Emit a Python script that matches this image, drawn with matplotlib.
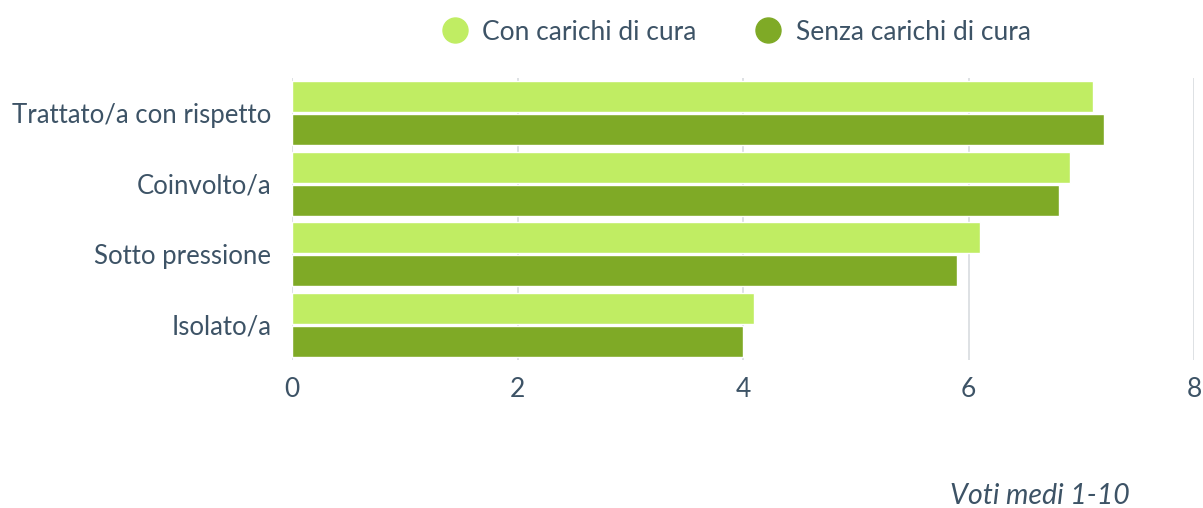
import matplotlib.pyplot as plt
import numpy as np

plt.rcParams['font.family'] = ['Lato', 'DejaVu Sans']

# dati
categorie = ['Trattato/a con rispetto', 'Coinvolto/a', 'Sotto pressione', 'Isolato/a']
con_carichi = [7.1, 6.9, 6.1, 4.1]
senza_carichi = [7.2, 6.8, 5.9, 4.0]
serie_nomi = ['Con carichi di cura', 'Senza carichi di cura']
colori = ['#c0ed63', '#7faa26']
tick_x = [0, 2, 4, 6, 8]

testo = '#3d5366'

fig = plt.figure(figsize=(12.03, 5.08), dpi=100)
ax = fig.add_axes([292 / 1203, 148 / 508, 902 / 1203, 282 / 508])

y = np.arange(len(categorie))
h = 0.44
gap = 0.015
ax.barh(y - h / 2 - gap, con_carichi, height=h, color=colori[0],
        edgecolor='white', linewidth=1, zorder=3, label=serie_nomi[0])
ax.barh(y + h / 2 + gap, senza_carichi, height=h, color=colori[1],
        edgecolor='white', linewidth=1, zorder=3, label=serie_nomi[1])

ax.set_xlim(0, 8)
ax.set_ylim(len(categorie) - 0.5, -0.5)
ax.set_xticks(tick_x)
ax.set_xticklabels([str(t) for t in tick_x])
ax.set_yticks(y)
ax.set_yticklabels(categorie)
ax.tick_params(axis='both', length=0, colors=testo)
ax.tick_params(axis='x', pad=12, labelsize=19)
ax.tick_params(axis='y', pad=15, labelsize=18.5)
ax.grid(axis='x', color='#d8dbdf', linewidth=1.2, zorder=0)
for s in ax.spines.values():
    s.set_visible(False)

# legenda in alto
fig.legend(handles=[plt.Line2D([], [], marker='o', linestyle='', markersize=18,
                               markerfacecolor=c, markeredgecolor=c) for c in colori],
           labels=serie_nomi, loc='center', bbox_to_anchor=(736 / 1203, 1 - 32 / 508),
           ncol=2, frameon=False, fontsize=19, labelcolor=testo,
           handletextpad=0.55, columnspacing=2.2, handlelength=1.0)

fig.text(1130 / 1203, 1 - 504 / 508, 'Voti medi 1-10', ha='right', va='baseline',
         fontsize=20.5, style='italic', color=testo)

fig.savefig('out.png', dpi=100)
